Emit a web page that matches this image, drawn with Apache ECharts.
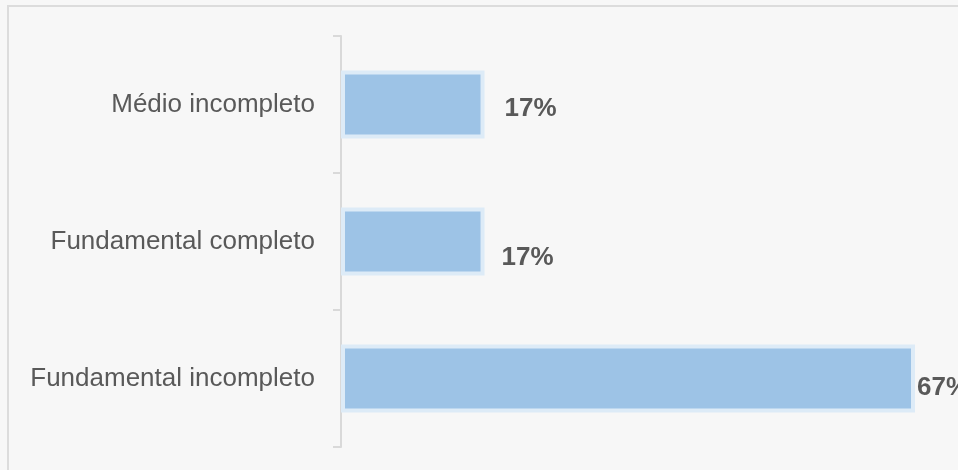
<!DOCTYPE html>
<html>
<head>
<meta charset="utf-8">
<script src="https://cdn.jsdelivr.net/npm/echarts@6/dist/echarts.min.js"></script>
<style>html,body{margin:0;padding:0;background:#f7f7f7}#c{width:958px;height:470px}</style>
</head>
<body>
<div id="c"></div>
<script>
const categories = ['Médio incompleto', 'Fundamental completo', 'Fundamental incompleto'];
const values = [16.67, 16.67, 66.67];
const labelOffsets = [[0, 4], [0, 16], [0, 9]];
const labelDistances = [20, 17, 2];

const chart = echarts.init(document.getElementById('c'));
chart.setOption({
  backgroundColor: '#f7f7f7',
  animation: false,
  graphic: [{
    type: 'rect', shape: {x: 8, y: 6, width: 970, height: 480},
    style: {fill: 'none', stroke: '#dcdcdc', lineWidth: 2}, z: -1
  }],
  grid: {left: 341, right: 43, top: 36, bottom: 23},
  xAxis: {type: 'value', min: 0, max: 'dataMax', show: false},
  yAxis: {
    type: 'category', data: categories, inverse: true,
    axisLine: {show: true, lineStyle: {color: '#d9d9d9', width: 2}},
    axisTick: {show: true, length: 8, lineStyle: {color: '#d9d9d9', width: 2}},
    axisLabel: {color: '#595959', fontSize: 26, fontFamily: 'Liberation Sans, Arial', margin: 26}
  },
  series: [{
    type: 'bar', barWidth: 68,
    data: values.map((v, i) => ({
      value: v,
      label: {offset: labelOffsets[i], distance: labelDistances[i]}
    })),
    itemStyle: {color: '#9dc3e6', borderColor: '#ddebf7', borderWidth: 4},
    label: {
      show: true, position: 'right', color: '#595959', fontWeight: 'bold',
      fontSize: 26, fontFamily: 'Liberation Sans, Arial',
      formatter: p => Math.round(p.value) + '%'
    }
  }]
});
</script>
</body>
</html>
